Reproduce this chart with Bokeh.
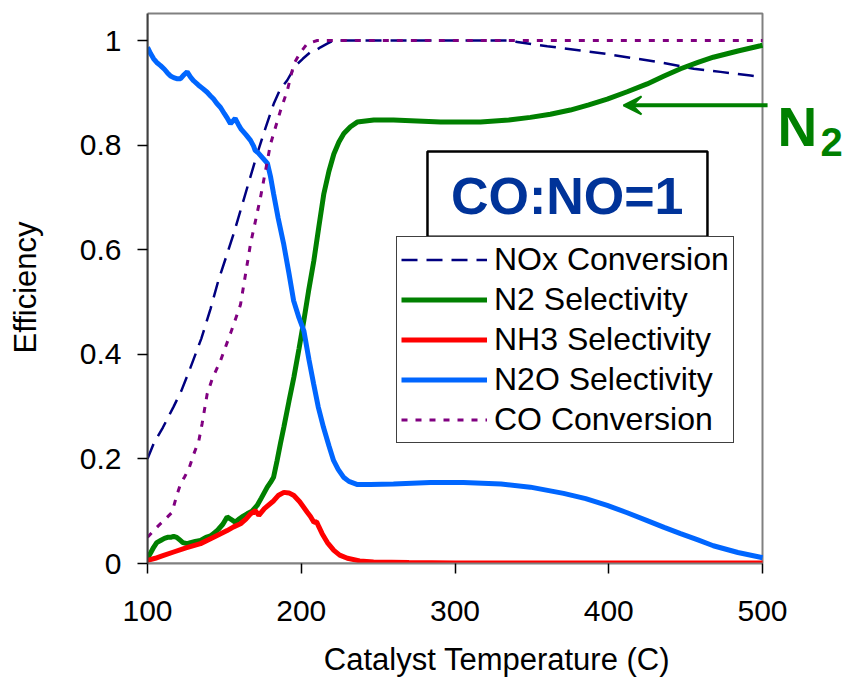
from bokeh.plotting import figure
from bokeh.models import (Range1d, FixedTicker, Label, BoxAnnotation, Arrow, VeeHead)
from bokeh.embed import file_html
from bokeh.resources import INLINE

# ---------------- data ----------------
nox_x = [100, 104, 110, 117, 122, 128, 135, 141, 146, 151.8, 156, 160.5, 166, 171.3, 177, 182.1,
         186, 190.9, 194, 197.4, 201, 206, 209, 212.5, 216.9, 221.2, 338, 340.5, 350, 360, 381.6,
         399, 418.5, 435.8, 455.3, 472.7, 492.2, 500]
nox_y = [0.20, 0.229, 0.26, 0.30, 0.33, 0.375, 0.43, 0.487, 0.54, 0.592, 0.63, 0.675, 0.73, 0.783,
         0.835, 0.879, 0.905, 0.924, 0.94, 0.955, 0.965, 0.978, 0.98, 0.987, 0.994, 1.0, 1.0, 0.997,
         0.993, 0.989, 0.981, 0.974, 0.965, 0.957, 0.946, 0.94, 0.933, 0.93]

n2_x = [100, 102, 104, 106, 108.5, 111, 113, 115, 117, 119, 121, 123, 125.8, 128, 131, 134.5, 138,
        141, 143, 146, 149, 151.8, 154, 157, 160, 162, 164.8, 168, 171.3, 174, 177.9, 180, 182,
        184.3, 186.5, 188.7, 192, 195.2, 198.5, 201.7, 204.7, 208.2, 211.5, 214.7, 218, 221.2,
        224.5, 227.7, 232, 236.4, 247.2, 260, 290.6, 316.6, 335, 349, 362, 375, 387, 399, 412,
        425, 436, 446.7, 458, 468, 484, 498.7, 500]
n2_y = [0.01, 0.02, 0.031, 0.04, 0.044, 0.048, 0.05, 0.05, 0.052, 0.05, 0.045, 0.04, 0.038, 0.04,
        0.042, 0.044, 0.05, 0.053, 0.057, 0.065, 0.075, 0.089, 0.085, 0.079, 0.086, 0.09, 0.095,
        0.10, 0.111, 0.125, 0.146, 0.155, 0.165, 0.197, 0.23, 0.261, 0.31, 0.356, 0.41, 0.465,
        0.52, 0.579, 0.645, 0.707, 0.75, 0.783, 0.806, 0.822, 0.835, 0.844, 0.848, 0.848, 0.844,
        0.844, 0.848, 0.853, 0.859, 0.867, 0.877, 0.888, 0.902, 0.917, 0.932, 0.946, 0.958, 0.968,
        0.98, 0.99, 0.991]

nh3_x = [100, 105, 110, 117, 125, 134.5, 143, 151.8, 156, 160.5, 164, 167, 170.2, 172.4, 176,
         182.1, 185, 188.7, 192, 195.2, 199, 203.9, 206, 208.2, 210, 211.5, 213.6, 217, 221.2,
         225, 230, 238, 247, 270, 300, 500]
nh3_y = [0.006, 0.01, 0.015, 0.022, 0.03, 0.038, 0.05, 0.063, 0.07, 0.076, 0.085, 0.095, 0.101,
         0.092, 0.105, 0.12, 0.13, 0.136, 0.135, 0.13, 0.118, 0.098, 0.09, 0.079, 0.08, 0.07,
         0.057, 0.04, 0.025, 0.016, 0.01, 0.005, 0.003, 0.002, 0.001, 0.001]

n2o_x = [100, 102, 104, 106, 108.5, 111, 113, 115, 117, 119, 121.5, 123.5, 125.8, 128, 130, 133,
         136, 138.8, 141, 143, 145, 147.5, 150, 152, 154, 155.5, 157, 159, 161, 164, 167, 169,
         170, 172, 175, 178, 180, 182, 185, 188.5, 192, 195, 198.5, 201.7, 205, 208, 211, 214.5,
         218, 221, 224, 227.5, 231, 236.6, 245, 260, 284, 305.5, 330, 349, 370.6, 385, 399, 412,
         425, 436, 446.7, 458, 468, 484, 498.7, 500]
n2o_y = [0.987, 0.975, 0.965, 0.958, 0.952, 0.945, 0.938, 0.932, 0.929, 0.927, 0.927, 0.934, 0.94,
         0.93, 0.923, 0.915, 0.908, 0.901, 0.894, 0.888, 0.88, 0.872, 0.86, 0.851, 0.841, 0.846,
         0.851, 0.84, 0.83, 0.82, 0.809, 0.798, 0.79, 0.785, 0.775, 0.765, 0.74, 0.707, 0.66,
         0.612, 0.555, 0.503, 0.47, 0.445, 0.39, 0.344, 0.30, 0.26, 0.225, 0.197, 0.18, 0.165,
         0.157, 0.151, 0.151, 0.152, 0.155, 0.155, 0.152, 0.146, 0.134, 0.124, 0.111, 0.097,
         0.082, 0.069, 0.057, 0.045, 0.034, 0.021, 0.012, 0.011]

co_x = [100, 104, 107, 110.6, 116, 119, 121.5, 124, 126.9, 130.2, 133.4, 135.5, 138.8, 142.1,
        147.5, 154, 160.5, 167, 173.5, 180, 186.5, 190.9, 195.2, 199, 203.9, 210.4, 500]
co_y = [0.05, 0.063, 0.072, 0.082, 0.098, 0.13, 0.152, 0.165, 0.181, 0.21, 0.235, 0.267, 0.324,
        0.353, 0.388, 0.44, 0.495, 0.611, 0.70, 0.802, 0.866, 0.904, 0.955, 0.975, 0.994, 1.0, 1.0]

y_ticks = [0, 0.2, 0.4, 0.6, 0.8, 1]
y_tick_labels = ["0", "0.2", "0.4", "0.6", "0.8", "1"]
x_ticks = [100, 200, 300, 400, 500]
x_lo, x_hi = 100, 500
y_lo, y_hi = 0, 1.0516

FONT = "Liberation Sans"
W, H = 846, 680
BL, BT, BB = 147, 11, 117
# data extent of the frame: plot area keeps 100..500 over 615 px; the frame is
# widened to the right edge so that the N2 arrow and label are not clipped
x_view_end = x_lo + (W - BL) * (x_hi - x_lo) / 615
y_view_end = (H - BT - BB) / 523

p = figure(width=W, height=H, output_backend="svg", toolbar_location=None,
           x_range=Range1d(x_lo, x_view_end), y_range=Range1d(y_lo, y_view_end),
           min_border_left=BL, min_border_right=0, min_border_top=BT, min_border_bottom=BB)
p.background_fill_color = "white"
p.border_fill_color = "white"
p.outline_line_color = None
p.xgrid.visible = False
p.ygrid.visible = False

for ax in (p.xaxis[0], p.yaxis[0]):
    ax.major_tick_out = 10
    ax.major_tick_in = 0
    ax.minor_tick_out = 0
    ax.minor_tick_in = 0
    ax.major_tick_line_color = "black"
    ax.major_tick_line_width = 1.5
    ax.axis_line_color = "#808080"
    ax.axis_line_width = 2
    ax.major_label_text_font = FONT
    ax.major_label_text_font_size = "30px"
    ax.major_label_text_color = "black"
    ax.axis_label_text_font = FONT
    ax.axis_label_text_font_size = "31px"
    ax.axis_label_text_font_style = "normal"
    ax.axis_label_text_color = "black"

p.xaxis[0].bounds = (x_lo, x_hi)
p.yaxis[0].bounds = (y_lo, y_hi)
p.yaxis[0].axis_line_color = "#404040"
p.xaxis[0].ticker = FixedTicker(ticks=x_ticks)
p.yaxis[0].ticker = FixedTicker(ticks=y_ticks)
p.yaxis[0].major_label_overrides = {t: s for t, s in zip(y_ticks, y_tick_labels)}
p.xaxis[0].axis_label = "Catalyst Temperature (C)"
p.yaxis[0].axis_label = "Efficiency"
p.yaxis[0].major_label_standoff = 16
p.yaxis[0].axis_label_standoff = 34
p.xaxis[0].major_label_standoff = 27
p.xaxis[0].axis_label_standoff = 18

# plot-area outline (top and right sides, grey)
p.add_layout(BoxAnnotation(left=x_lo, right=x_hi, bottom=y_lo, top=y_hi, fill_alpha=0,
                           line_color="#808080", line_alpha=1.0, line_width=2, level="underlay"))

p.line(nox_x, nox_y, color="#000080", line_width=2.5, line_dash="16 9", legend_label="NOx Conversion")
p.line(n2_x, n2_y, color="#008000", line_width=5, legend_label="N2 Selectivity")
p.line(nh3_x, nh3_y, color="#ff0000", line_width=5, legend_label="NH3 Selectivity")
p.line(n2o_x, n2o_y, color="#0066ff", line_width=5, legend_label="N2O Selectivity")
p.line(co_x, co_y, color="#800080", line_width=3, line_dash="6 8", legend_label="CO Conversion")

lg = p.legend[0]
lg.location = (249, 120)
lg.margin = 0
lg.padding = 4
lg.spacing = 3
lg.label_height = 37
lg.glyph_height = 37
lg.glyph_width = 86
lg.label_standoff = 7
lg.label_text_font = FONT
lg.label_text_font_size = "32px"
lg.label_text_color = "black"
lg.border_line_color = "#404040"
lg.border_line_width = 1.5
lg.border_line_alpha = 1.0
lg.background_fill_alpha = 1.0

box = BoxAnnotation(left=282.1, right=464.2, bottom=0.625, top=0.788,
                    fill_color="white", fill_alpha=1.0, line_color="black", line_alpha=1.0,
                    line_width=2.5)
p.add_layout(box)
p.add_layout(Label(x=373, y=0.703, text="CO:NO=1", text_font=FONT, text_font_size="52px",
                   text_font_style="bold", text_color="#003399", text_align="center",
                   text_baseline="middle"))

p.add_layout(Arrow(end=VeeHead(size=18, line_color="#008000", fill_color="#008000", line_width=2),
                   x_start=503.3, y_start=0.876, x_end=409.6, y_end=0.876,
                   line_color="#008000", line_width=4))
p.add_layout(Label(x=509.8, y=0.834, text="N", text_font=FONT, text_font_size="55px",
                   text_font_style="bold", text_color="#008000", text_baseline="alphabetic"))
p.add_layout(Label(x=537.7, y=0.805, text="2", text_font=FONT, text_font_size="40px",
                   text_font_style="bold", text_color="#008000", text_baseline="alphabetic"))

open("out.html", "w").write(file_html(p, INLINE))
